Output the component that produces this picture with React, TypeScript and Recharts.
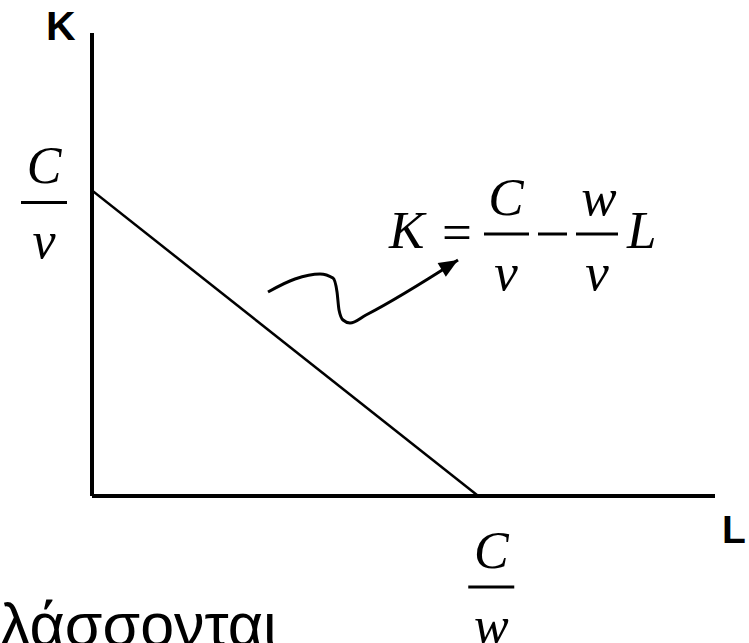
import { Customized, Line, LineChart, XAxis, YAxis } from "recharts";

// budget line: K = C/v - (w/v) L, intercepts (axis 0..100)
const AXIS_MAX = 100;
const K_INTERCEPT = 66; // C/v
const L_INTERCEPT = 62; // C/w

const budgetLine = [
  { L: 0, K: K_INTERCEPT },
  { L: L_INTERCEPT, K: 0 },
];

// wavy pointer from the line to the equation
const arrowL = [28.25, 32.58, 36.6, 38.68, 39.33, 39.65, 40.29, 41.41, 43.98, 58.75];
const arrowK = [44.06, 46.87, 47.95, 47.08, 44.06, 40.17, 38.01, 37.37, 39.09, 50.97];
const arrowPath = arrowL.map((L, i) => ({ L, K: arrowK[i] }));

const SERIF = "'Liberation Serif', 'Times New Roman', serif";
const SANS = "'Liberation Sans', Arial, sans-serif";

function Fraction({ cx, top, num, den, size = 52 }: any) {
  // top = numerator baseline
  return (
    <g fontFamily={SERIF} fontStyle="italic" fontSize={size} fill="#000">
      <text x={cx} y={top} textAnchor="middle">
        {num}
      </text>
      <line x1={cx - 23} x2={cx + 23} y1={top + 19} y2={top + 19} stroke="#000" strokeWidth={3} />
      <text x={cx} y={top + 75} textAnchor="middle">
        {den}
      </text>
    </g>
  );
}

function KTick({ x, y }: any) {
  return <Fraction cx={x - 48} top={y - 7} num="C" den="v" />;
}

function LTick({ x, y }: any) {
  return <Fraction cx={x + 13} top={y + 72} num="C" den="w" />;
}

function ArrowHead(props: any) {
  const { cx, cy, index } = props;
  if (index !== arrowPath.length - 1) return <g key={index} />;
  return (
    <path
      key={index}
      d="M0,0 L-19,-8 L-19,8 Z"
      fill="#000"
      transform={`translate(${cx},${cy}) rotate(-31)`}
    />
  );
}

function Annotations() {
  return (
    <g>
      <text x={46} y={40} fontFamily={SANS} fontWeight="bold" fontSize={41} fill="#000">
        K
      </text>
      <text x={722} y={543} fontFamily={SANS} fontWeight="bold" fontSize={39} fill="#000">
        L
      </text>
      <g fontFamily={SERIF} fontSize={53} fill="#000">
        <text x={389} y={248} fontStyle="italic">
          K
        </text>
        <text x={457} y={250} textAnchor="middle">
          =
        </text>
        <line x1={538} x2={567} y1={234} y2={234} stroke="#000" strokeWidth={3} />
        <text x={627} y={248} fontStyle="italic">
          L
        </text>
      </g>
      <g fontFamily={SERIF} fontStyle="italic" fontSize={53} fill="#000">
        <text x={506} y={215} textAnchor="middle">C</text>
        <line x1={484} x2={529} y1={234} y2={234} stroke="#000" strokeWidth={3} />
        <text x={506} y={290} textAnchor="middle">v</text>
        <text x={599} y={215} textAnchor="middle">w</text>
        <line x1={576} x2={618} y1={234} y2={234} stroke="#000" strokeWidth={3} />
        <text x={597} y={290} textAnchor="middle">v</text>
      </g>
      <text x={0} y={646} fontFamily={SANS} fontSize={61} fill="#000">
        λάσσονται
      </text>
    </g>
  );
}

export default function App() {
  return (
    <div style={{ position: "absolute", left: 0, top: 0, width: 749, height: 643, background: "#fff" }}>
      <LineChart width={749} height={643} margin={{ top: 33, right: 34, left: 91, bottom: 146 }}>
        <XAxis
          type="number"
          dataKey="L"
          domain={[0, AXIS_MAX]}
          ticks={[L_INTERCEPT]}
          interval={0}
          height={1}
          tickSize={0}
          tickMargin={0}
          tickLine={false}
          tick={<LTick />}
          axisLine={{ stroke: "#000", strokeWidth: 4 }}
          allowDataOverflow
        />
        <YAxis
          type="number"
          dataKey="K"
          domain={[0, AXIS_MAX]}
          ticks={[K_INTERCEPT]}
          interval={0}
          width={1}
          tickSize={0}
          tickMargin={0}
          tickLine={false}
          tick={<KTick />}
          axisLine={{ stroke: "#000", strokeWidth: 4 }}
          allowDataOverflow
        />
        <Line
          data={budgetLine}
          dataKey="K"
          type="linear"
          stroke="#000"
          strokeWidth={2.5}
          dot={false}
          isAnimationActive={false}
        />
        <Line
          data={arrowPath}
          dataKey="K"
          type="monotone"
          stroke="#000"
          strokeWidth={3}
          dot={ArrowHead}
          isAnimationActive={false}
        />
        <Customized component={<Annotations />} />
      </LineChart>
    </div>
  );
}
